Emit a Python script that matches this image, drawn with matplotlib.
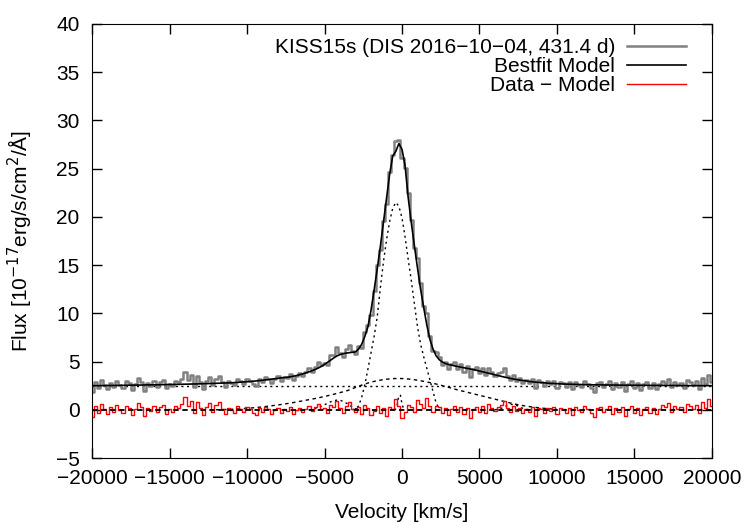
import numpy as np
import matplotlib
matplotlib.use("Agg")
import matplotlib.pyplot as plt

plt.rcParams['font.family'] = ['Liberation Sans', 'DejaVu Sans']
plt.rcParams['font.size'] = 15

# velocity grid of the spectrum (km/s), 200 km/s bins
vel = np.arange(-20000, 20001, 200)

# best-fit model, one value per bin
model = [
    2.50, 2.50, 2.51, 2.51, 2.51, 2.52, 2.52, 2.52, 2.53, 2.53,
    2.54, 2.54, 2.55, 2.55, 2.56, 2.56, 2.57, 2.57, 2.58, 2.58,
    2.59, 2.59, 2.60, 2.60, 2.61, 2.62, 2.62, 2.63, 2.64, 2.64,
    2.65, 2.66, 2.67, 2.67, 2.68, 2.69, 2.70, 2.71, 2.72, 2.73,
    2.74, 2.75, 2.76, 2.77, 2.78, 2.80, 2.82, 2.84, 2.86, 2.88,
    2.90, 2.93, 2.96, 2.99, 3.02, 3.06, 3.10, 3.14, 3.18, 3.22,
    3.26, 3.30, 3.34, 3.38, 3.42, 3.48, 3.55, 3.63, 3.72, 3.82,
    3.93, 4.05, 4.18, 4.33, 4.50, 4.70, 4.92, 5.15, 5.38, 5.58,
    5.72, 5.82, 5.88, 5.92, 5.95, 6.00, 6.30, 6.80, 7.60, 8.60,
    10.3, 12.4, 14.6, 16.9, 19.4, 21.9, 24.4, 26.3, 26.8, 27.6,
    27.0, 25.3, 22.0, 19.4, 17.0, 14.7, 12.5, 10.6, 8.80, 7.30,
    6.30, 5.60, 5.20, 4.95, 4.80, 4.70, 4.62, 4.55, 4.48, 4.42,
    4.36, 4.30, 4.24, 4.17, 4.10, 4.02, 3.94, 3.86, 3.78, 3.70,
    3.62, 3.54, 3.46, 3.39, 3.32, 3.25, 3.19, 3.13, 3.08, 3.03,
    2.98, 2.94, 2.90, 2.87, 2.84, 2.81, 2.78, 2.76, 2.74, 2.72,
    2.70, 2.69, 2.67, 2.66, 2.65, 2.64, 2.63, 2.62, 2.61, 2.60,
    2.60, 2.59, 2.59, 2.58, 2.58, 2.57, 2.57, 2.57, 2.56, 2.56,
    2.56, 2.55, 2.55, 2.55, 2.55, 2.54, 2.54, 2.54, 2.54, 2.53,
    2.53, 2.53, 2.53, 2.53, 2.52, 2.52, 2.52, 2.52, 2.52, 2.51,
    2.51, 2.51, 2.51, 2.51, 2.50, 2.50, 2.50, 2.50, 2.50, 2.50,
    2.50,
]

# data - model, read per bin
resid = [
    -0.7, 0.4, -0.3, 0.6, 0.1, -0.4, 0.3, -0.2, 0.5, 0.0,
    -0.3, 0.4, 0.2, -0.5, 0.1, 0.7, 0.3, -0.6, 0.2, -0.1,
    0.4, -0.2, 0.3, 0.5, -0.4, 0.1, -0.2, 0.4, 0.2, 0.6,
    1.3, 0.4, 0.9, -0.3, 0.8, 0.2, -0.5, 0.3, 0.7, -0.2,
    0.5, 0.8, 0.1, -0.4, 0.2, 0.0, -0.3, 0.4, 0.1, -0.2,
    0.3, 0.1, -0.3, -0.5, 0.2, -0.2, 0.3, 0.1, -0.4, 0.0,
    0.2, -0.3, 0.1, -0.1, 0.3, -0.4, 0.0, 0.2, -0.2, 0.1,
    0.4, -0.1, 0.3, 0.6, 0.1, 0.2, -0.3, 0.5, 0.3, 0.9,
    0.2, -0.3, 0.4, 0.8, 0.1, -0.2, 0.3, -0.4, 0.5, 0.2,
    -0.5, -0.1, 0.4, -0.3, 0.2, -0.6, 0.3, 0.1, 1.1, 0.4,
    -0.9, -0.2, 0.5, 0.3, -0.2, 1.0, 0.6, 0.2, 1.2, 0.4,
    -0.2, 0.4, 0.3, -0.3, 0.2, -0.5, 0.1, 0.4, -0.2, 0.3,
    -0.4, 0.2, -0.8, 0.1, 0.3, -0.2, 0.4, -0.3, 0.6, 0.2,
    -0.1, 0.3, 0.5, 0.9, 0.2, -0.2, 0.4, -0.1, 0.2, -0.3,
    0.1, -0.2, 0.3, -0.6, 0.2, 0.1, -0.3, 0.2, -0.1, 0.3,
    -0.4, 0.2, 0.1, -0.3, 0.2, -0.5, 0.3, 0.0, -0.2, 0.4,
    0.1, -0.3, -0.7, 0.2, 0.3, -0.2, 0.1, 0.4, -0.4, 0.2,
    -0.2, 0.3, -0.6, 0.1, 0.4, -0.3, 0.2, -0.5, 0.1, 0.3,
    -0.3, 0.2, -0.4, 0.1, 0.5, 0.3, 0.7, -0.2, 0.4, 0.1,
    0.3, -0.2, 0.6, 0.4, 0.1, 0.5, -0.3, 0.8, 0.2, 1.1,
    0.4,
]

continuum = 2.5

# broad component, 500 km/s steps from -12000 to 10000
broad_v = np.arange(-12000, 10001, 500)
broad = [0.0, 0.02, 0.05, 0.1, 0.15, 0.22, 0.3, 0.4, 0.5, 0.62,
         0.75, 0.9, 1.05, 1.2, 1.38, 1.57, 1.78, 2.0, 2.32, 2.62,
         2.87, 3.05, 3.17, 3.24, 3.24, 3.18, 3.07, 2.92, 2.75, 2.55,
         2.33, 2.1, 1.9, 1.7, 1.5, 1.3, 1.1, 0.9, 0.7, 0.52,
         0.38, 0.27, 0.18, 0.1, 0.05]

# narrow component, 200 km/s steps from -3200 to 2400
narrow_v = np.arange(-3200, 2401, 200)
narrow = [0.0, 0.1, 0.4, 1.3, 2.6, 4.2, 5.9, 7.6, 9.6, 12.6,
          15.3, 17.6, 19.5, 20.9, 21.5, 21.1, 19.9, 17.9, 15.6, 13.4,
          11.0, 8.6, 6.8, 5.5, 4.3, 3.1, 1.9, 0.7, 0.1]

# weak blue bump near -4300 km/s
blue_v = np.arange(-6000, -2799, 200)
blue = [0.0, 0.05, 0.12, 0.22, 0.36, 0.52, 0.68, 0.83, 0.94, 1.0,
        0.98, 0.88, 0.7, 0.48, 0.28, 0.12, 0.03]

# weak red bump near +7100 km/s
red_v = np.arange(6000, 8401, 200)
red = [0.0, 0.05, 0.15, 0.3, 0.45, 0.55, 0.55, 0.45, 0.3, 0.15, 0.05, 0.0, 0.0]

# narrow spike near zero velocity
spike_v = np.arange(-500, 201, 100)
spike = [0.0, 0.1, 0.6, 1.5, 1.5, 0.6, 0.1, 0.0]

model = np.array(model)
resid = np.array(resid)
data = model + resid

fig = plt.figure(figsize=(7.5, 5.25), dpi=100)
ax = fig.add_axes([0.1227, 0.1276, 0.8266, 0.8267])

dot = (0, (1.5, 2.5))
ax.axhline(continuum, color='black', lw=1, ls=dot)
ax.plot(broad_v, broad, color='black', lw=1, ls=(0, (2.5, 2.5)))
ax.plot(narrow_v, narrow, color='black', lw=1, ls=dot)
ax.plot(blue_v, blue, color='black', lw=1, ls=dot)
ax.plot(red_v, red, color='black', lw=1, ls=dot)
ax.plot(spike_v, spike, color='black', lw=1, ls=dot)

ax.plot(vel, data, color='#808080', lw=1.8, drawstyle='steps-mid',
        label='KISS15s (DIS 2016\u221210\u221204, 431.4 d)')
ax.plot(vel, model, color='black', lw=1.2, label='Bestfit Model')
ax.plot(vel, resid, color='red', lw=1, drawstyle='steps-mid', label='Data \u2212 Model')
ax.axhline(0, color='black', lw=1.3, ls=(0, (3, 2)))

ax.set_xlim(-20000, 20000)
ax.set_ylim(-5, 40)
ax.set_xticks(np.arange(-20000, 20001, 5000))
ax.set_yticks(np.arange(-5, 41, 5))
ax.tick_params(direction='in', top=True, right=True, length=7, width=1)
ax.tick_params(axis='x', pad=8)
ax.tick_params(axis='y', pad=9)
ax.set_xlabel('Velocity [km/s]', labelpad=11)
ax.set_ylabel('Flux [10$^{-17}$erg/s/cm$^2$/\u00c5]', labelpad=15)

ax.legend(loc='upper right', bbox_to_anchor=(0.988, 1.01), frameon=False,
          markerfirst=False, handlelength=2.8, handletextpad=0.6,
          labelspacing=0.0)

fig.savefig('out.png', dpi=100)
